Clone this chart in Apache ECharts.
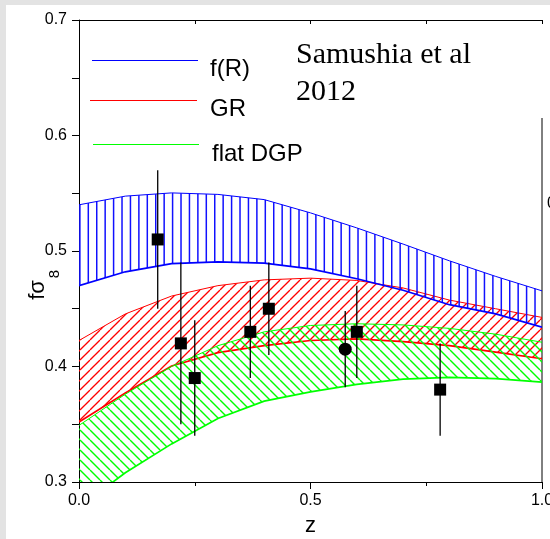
<!DOCTYPE html>
<html>
<head>
<meta charset="utf-8">
<script src="https://cdn.jsdelivr.net/npm/echarts@6/dist/echarts.min.js"></script>
<style>
  html, body { margin: 0; padding: 0; background: #fff; }
  #main { width: 550px; height: 539px; }
</style>
</head>
<body>
<div id="main"></div>
<script>
// z samples shared by the three model bands
var zGrid = [0, 0.1, 0.2, 0.3, 0.4, 0.5, 0.6, 0.7, 0.8, 0.9, 1.0];

// f(R) band
var fRUpper = [0.540, 0.5475, 0.5503, 0.549, 0.5445, 0.533, 0.520, 0.506, 0.4915, 0.478, 0.4655];
var fRLower = [0.470, 0.482, 0.489, 0.4905, 0.4895, 0.4845, 0.476, 0.466, 0.4535, 0.4455, 0.434];

// GR band
var grUpper = [0.4225, 0.4455, 0.461, 0.470, 0.475, 0.4765, 0.4745, 0.468, 0.4575, 0.450, 0.4425];
var grLower = [0.352, 0.377, 0.4005, 0.412, 0.418, 0.4225, 0.424, 0.4215, 0.418, 0.4125, 0.4067];

// flat DGP band
var dgpUpper = [0.349, 0.376, 0.400, 0.418, 0.430, 0.4355, 0.437, 0.436, 0.433, 0.428, 0.421];
var dgpLower = [0.278, 0.308, 0.333, 0.355, 0.370, 0.378, 0.3845, 0.389, 0.3905, 0.3895, 0.3865];

// measurements (squares)
var obsZ = [0.17, 0.22, 0.25, 0.37, 0.41, 0.60, 0.78];
var obsF = [0.51, 0.42, 0.39, 0.43, 0.45, 0.43, 0.38];
var obsErr = [0.06, 0.07, 0.05, 0.04, 0.04, 0.04, 0.04];

// measurement (circle)
var circZ = [0.575];
var circF = [0.415];
var circErr = [0.033];

var FONT = '"Liberation Sans", Arial, sans-serif';

// hatch tiles
function diagHatch(color, period, n, dir, width) {
    var T = period * n;
    var c = document.createElement('canvas');
    c.width = T; c.height = T;
    var ctx = c.getContext('2d');
    ctx.strokeStyle = color;
    ctx.lineWidth = width;
    for (var k = -n - 1; k <= 2 * n + 1; k++) {
        ctx.beginPath();
        if (dir === '/') {
            ctx.moveTo(k * period, T);
            ctx.lineTo(k * period + T, 0);
        } else {
            ctx.moveTo(k * period, 0);
            ctx.lineTo(k * period + T, T);
        }
        ctx.stroke();
    }
    return { image: c, repeat: 'repeat' };
}

function vertHatch(color, period, n, offset, width) {
    var T = Math.round(period * n);
    var c = document.createElement('canvas');
    c.width = T; c.height = 8;
    var ctx = c.getContext('2d');
    ctx.strokeStyle = color;
    ctx.lineWidth = width;
    for (var k = 0; k < n; k++) {
        var x = (offset + k * period) % T;
        ctx.beginPath();
        ctx.moveTo(x, 0);
        ctx.lineTo(x, 8);
        ctx.stroke();
    }
    return { image: c, repeat: 'repeat' };
}

function bandSeries(name, upper, lower, fill, color) {
    return {
        type: 'custom',
        name: name,
        clip: true,
        silent: true,
        data: [[0, upper[0]]],
        renderItem: function (params, api) {
            var top = zGrid.map(function (z, i) { return api.coord([z, upper[i]]); });
            var bot = zGrid.map(function (z, i) { return api.coord([z, lower[i]]); });
            return {
                type: 'group',
                children: [{
                    type: 'polygon',
                    shape: { points: top.concat(bot.slice().reverse()) },
                    style: { fill: fill, stroke: null }
                }, {
                    type: 'polyline',
                    shape: { points: top },
                    style: { stroke: color, lineWidth: 1, fill: null }
                }, {
                    type: 'polyline',
                    shape: { points: bot },
                    style: { stroke: color, lineWidth: 1.7, fill: null }
                }]
            };
        }
    };
}

function errSeries(zs, fs, es) {
    return {
        type: 'custom',
        silent: true,
        clip: true,
        data: zs.map(function (z, i) { return [z, fs[i], es[i]]; }),
        renderItem: function (params, api) {
            var z = api.value(0), f = api.value(1), e = api.value(2);
            var a = api.coord([z, f + e]);
            var b = api.coord([z, f - e]);
            return {
                type: 'line',
                shape: { x1: a[0], y1: a[1], x2: b[0], y2: b[1] },
                style: { stroke: '#000', lineWidth: 1.3 }
            };
        }
    };
}

var tickStyle = { color: '#000', width: 1 };
var labelFmt = function (v) { return v.toFixed(1); };

var chart = echarts.init(document.getElementById('main'));
var option = {
    animation: false,
    backgroundColor: '#fff',
    grid: { left: 79, right: 8, top: 20, bottom: 57, containLabel: false, outerBoundsMode: 'none' },
    xAxis: [{
        type: 'value', min: 0, max: 1, interval: 0.5, position: 'bottom',
        axisLine: { lineStyle: tickStyle },
        axisTick: { length: 7, lineStyle: tickStyle },
        minorTick: { show: true, splitNumber: 2, length: 4, lineStyle: tickStyle },
        splitLine: { show: false },
        axisLabel: { fontSize: 16, color: '#000', fontFamily: FONT, margin: 11, formatter: labelFmt },
        name: 'z', nameLocation: 'middle', nameGap: 33,
        nameTextStyle: { fontSize: 22, color: '#000', fontFamily: FONT }
    }, {
        type: 'value', min: 0, max: 1, interval: 0.5, position: 'top',
        axisLine: { lineStyle: tickStyle },
        axisTick: { inside: true, length: 4, lineStyle: tickStyle },
        minorTick: { show: true, splitNumber: 2, length: 4, lineStyle: tickStyle },
        splitLine: { show: false },
        axisLabel: { show: false }
    }],
    yAxis: [{
        type: 'value', min: 0.3, max: 0.7, interval: 0.1, position: 'left',
        axisLine: { show: true, lineStyle: tickStyle },
        axisTick: { length: 7, lineStyle: tickStyle },
        minorTick: { show: true, splitNumber: 2, length: 4, lineStyle: tickStyle },
        splitLine: { show: false },
        axisLabel: { fontSize: 16, color: '#000', fontFamily: FONT, margin: 12, formatter: labelFmt }
    }, {
        type: 'value', min: 0.3, max: 0.7, interval: 0.1, position: 'right',
        axisLine: { show: false },
        axisTick: { inside: true, length: 7, lineStyle: tickStyle },
        minorTick: { show: true, splitNumber: 2, length: 7, lineStyle: tickStyle },
        splitLine: { show: false },
        axisLabel: { show: false }
    }],
    series: [
        bandSeries('GR', grUpper, grLower, diagHatch('#ff0000', 10, 1, '/', 1.3), '#ff0000'),
        bandSeries('flat DGP', dgpUpper, dgpLower, diagHatch('#00ff00', 10, 1, '\\', 1.4), '#00ff00'),
        bandSeries('f(R)', fRUpper, fRLower, vertHatch('#1010ff', 8.43, 7, 29.3, 1.5), '#0000ff'),
        errSeries(obsZ, obsF, obsErr),
        errSeries(circZ, circF, circErr),
        {
            type: 'scatter', symbol: 'rect', symbolSize: 12, silent: true,
            itemStyle: { color: '#000', opacity: 1 },
            data: obsZ.map(function (z, i) { return [z, obsF[i]]; })
        },
        {
            type: 'scatter', symbol: 'circle', symbolSize: 13, silent: true,
            itemStyle: { color: '#000', opacity: 1 },
            data: circZ.map(function (z, i) { return [z, circF[i]]; })
        }
    ],
    graphic: [
        // window frame strips
        { type: 'rect', shape: { x: 0, y: 0, width: 550, height: 5 }, style: { fill: '#e3e3e3' }, z: 100 },
        { type: 'rect', shape: { x: 0, y: 0, width: 6, height: 539 }, style: { fill: '#e3e3e3' }, z: 100 },
        // right frame line (starts below the legend area)
        { type: 'line', shape: { x1: 542, y1: 118, x2: 542, y2: 482 }, style: { stroke: '#000', lineWidth: 1 } },
        { type: 'text', x: 547, y: 204, style: { text: '0', font: '16px ' + FONT, fill: '#000', align: 'left', verticalAlign: 'middle' } },
        // legend
        { type: 'line', shape: { x1: 92, y1: 60.5, x2: 198, y2: 60.5 }, style: { stroke: '#0000ff', lineWidth: 1.2 } },
        { type: 'line', shape: { x1: 90, y1: 100.5, x2: 197, y2: 100.5 }, style: { stroke: '#ff0000', lineWidth: 1.2 } },
        { type: 'line', shape: { x1: 93, y1: 144.5, x2: 199, y2: 144.5 }, style: { stroke: '#00ff00', lineWidth: 1.2 } },
        { type: 'text', x: 210, y: 69, style: { text: 'f(R)', font: '24px ' + FONT, fill: '#000', verticalAlign: 'middle' } },
        { type: 'text', x: 210, y: 109, style: { text: 'GR', font: '24px ' + FONT, fill: '#000', verticalAlign: 'middle' } },
        { type: 'text', x: 212, y: 154, style: { text: 'flat DGP', font: '24px ' + FONT, fill: '#000', verticalAlign: 'middle' } },
        // annotation
        { type: 'text', x: 296, y: 55, style: { text: 'Samushia et al', font: '30px "Liberation Serif", serif', fill: '#000', verticalAlign: 'middle' } },
        { type: 'text', x: 296, y: 92, style: { text: '2012', font: '30px "Liberation Serif", serif', fill: '#000', verticalAlign: 'middle' } },
        // y axis title f sigma_8
        { type: 'text', x: 38, y: 290, rotation: Math.PI / 2, style: { text: 'fσ', font: '22px ' + FONT, fill: '#000', align: 'center', verticalAlign: 'middle' } },
        { type: 'text', x: 55, y: 274, rotation: Math.PI / 2, style: { text: '8', font: '15px ' + FONT, fill: '#000', align: 'center', verticalAlign: 'middle' } }
    ]
};
chart.setOption(option);
</script>
</body>
</html>
